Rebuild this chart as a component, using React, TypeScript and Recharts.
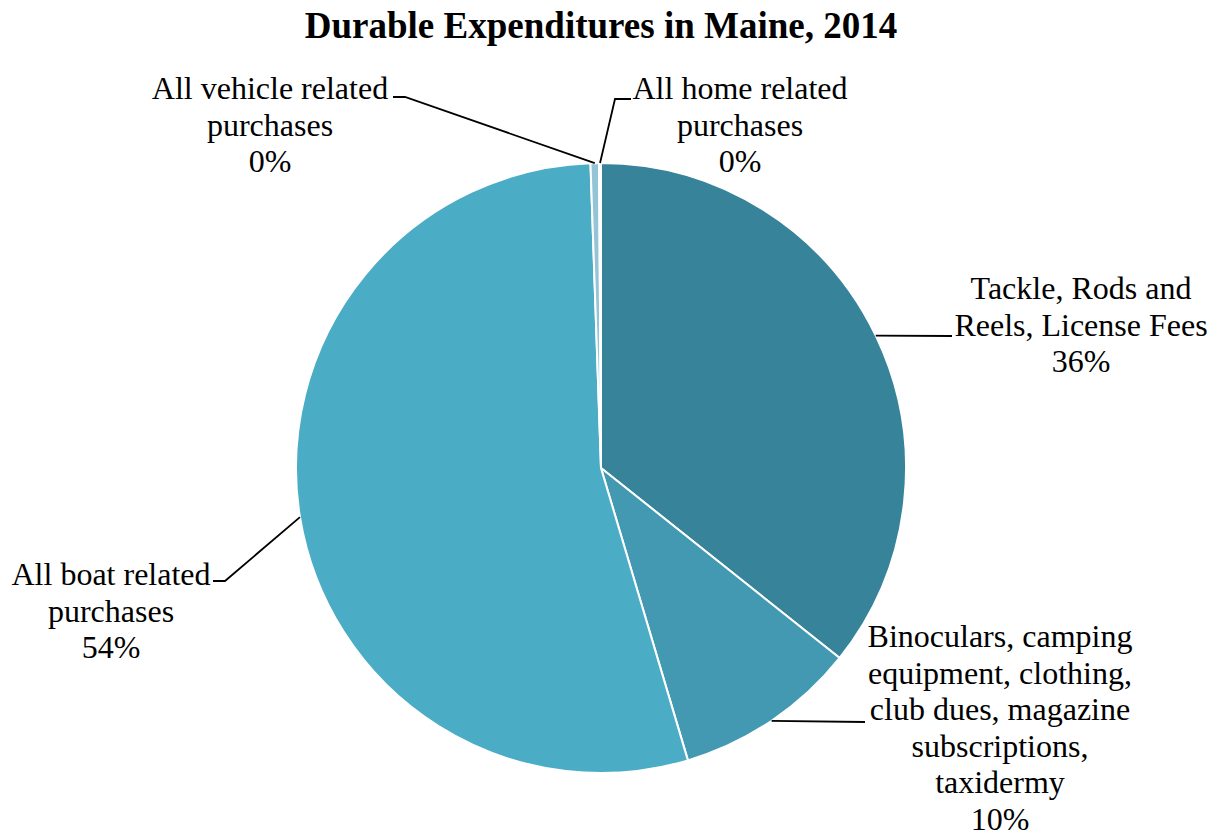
import { PieChart, Pie, Cell } from "recharts";

const title = "Durable Expenditures in Maine, 2014";

const categories = [
  "Tackle, Rods and Reels, License Fees",
  "Binoculars, camping equipment, clothing, club dues, magazine subscriptions, taxidermy",
  "All boat related purchases",
  "All vehicle related purchases",
  "All home related purchases",
];

// how each label is broken into lines in the original
const labelLines = [
  ["Tackle, Rods and", "Reels, License Fees"],
  ["Binoculars, camping", "equipment, clothing,", "club dues, magazine", "subscriptions,", "taxidermy"],
  ["All boat related", "purchases"],
  ["All vehicle related", "purchases"],
  ["All home related", "purchases"],
];

const values = [35.7, 9.7, 54.05, 0.45, 0.1];

const colors = ["#37839A", "#4399B1", "#4BACC6", "#93C5D7", "#B7DEE8"];

// label placement relative to pie centre: text centre x, first baseline y, leader elbow/end points
const labelLayout = [
  { tx: 480, ty: -169, pts: [[351, -132]] },
  { tx: 399, ty: 179, pts: [[264, 254]] },
  { tx: -490, ty: 117, pts: [[-376, 113], [-388, 113]] },
  { tx: -331, ty: -369, pts: [[-196, -371], [-208, -371]] },
  { tx: 139, ty: -369, pts: [[14, -369], [30, -369]] },
];

const total = values.reduce((a, b) => a + b, 0);
const data = categories.map((name, i) => ({ name, value: values[i] }));

const FONT = '"Liberation Serif", "Times New Roman", serif';
const RAD = Math.PI / 180;
const LINE_H = 36.6;

const renderLabel = (props: any) => {
  const { cx, cy, midAngle, outerRadius, index } = props;
  const ax = cx + outerRadius * Math.cos(-midAngle * RAD);
  const ay = cy + outerRadius * Math.sin(-midAngle * RAD);
  const lay = labelLayout[index];
  const points = [[ax, ay], ...lay.pts.map(([x, y]) => [cx + x, cy + y])];
  const lines = [...labelLines[index], `${Math.round((values[index] / total) * 100)}%`];
  return (
    <g key={`lbl-${index}`}>
      <polyline
        points={points.map((p) => p.join(",")).join(" ")}
        fill="none"
        stroke="#000"
        strokeWidth={1.8}
      />
      <text x={cx + lay.tx} y={cy + lay.ty} textAnchor="middle" fontFamily={FONT} fontSize={32} fill="#000">
        {lines.map((l, i) => (
          <tspan key={i} x={cx + lay.tx} dy={i === 0 ? 0 : LINE_H}>
            {l}
          </tspan>
        ))}
      </text>
    </g>
  );
};

export default function App() {
  return (
    <div style={{ position: "absolute", left: 0, top: 0, background: "#fff" }}>
      <style>{`.recharts-pie-sectors { filter: drop-shadow(3px 3px 3px rgba(0,0,0,0.35)); }`}</style>
      <PieChart width={1215} height={836} margin={{ top: 0, right: 0, bottom: 0, left: 0 }}>
        <text x={601} y={38} textAnchor="middle" fontFamily={FONT} fontSize={37} fontWeight="bold" fill="#000">
          {title}
        </text>
        <Pie
          data={data}
          dataKey="value"
          nameKey="name"
          cx={601}
          cy={468}
          outerRadius={305}
          startAngle={90}
          endAngle={-270}
          stroke="#fff"
          strokeWidth={2}
          label={renderLabel}
          labelLine={false}
          isAnimationActive={false}
        >
          {data.map((d, i) => (
            <Cell key={d.name} fill={colors[i]} />
          ))}
        </Pie>
      </PieChart>
    </div>
  );
}
